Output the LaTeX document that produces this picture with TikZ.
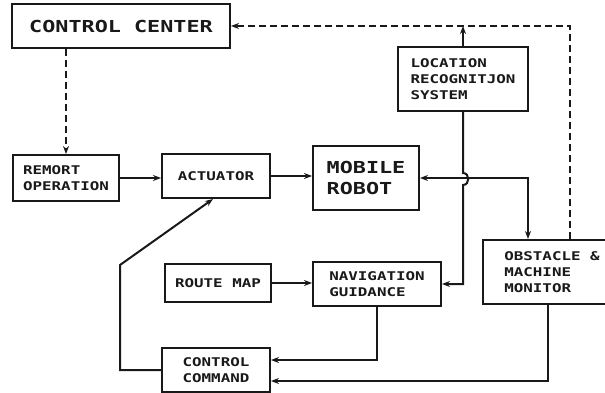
\documentclass[tikz,border=0pt]{standalone}
\usepackage{fontspec}
\usetikzlibrary{positioning,calc}
\usetikzlibrary{arrows.meta}
\newfontfamily\plotfont[FakeStretch=1.32]{DejaVu Sans Mono}
\definecolor{InkGray}{RGB}{25,25,25}
\tikzset{
  blk/.style={draw=InkGray,line width=2pt,inner sep=0pt,align=left,
    font=\plotfont\bfseries\fontsize{12}{16}\selectfont,text=InkGray},
  bigblk/.style={blk,font=\plotfont\bfseries\fontsize{16.5}{21.5}\selectfont},
  tip/.style={-{Stealth[length=8pt,width=6pt]}},
  flow/.style={draw=InkGray,line width=2pt,tip},
  dflow/.style={flow,dash pattern=on 7pt off 4pt},
}

\begin{document}
\begin{tikzpicture}[x=1pt,y=-1pt]
\clip (0,0) rectangle (605,393);
\fill[white] (0,0) rectangle (605,393);
% blocks
\node[bigblk,minimum width=218pt,minimum height=44pt] (cc) at (121,26) {CONTROL CENTER};
\node[blk,minimum width=106pt,minimum height=46pt] (remort) at (66,178) {REMORT\\OPERATION};
\node[blk,minimum width=108pt,minimum height=44pt] (actuator) at (216,176) {ACTUATOR};
\node[bigblk,minimum width=106pt,minimum height=64pt] (robot) at (366,178) {MOBILE\\ROBOT};
\node[blk,minimum width=130pt,minimum height=64pt] (locsys) at (463,79) {LOCATION\\RECOGNITJON\\SYSTEM};
\node[blk,minimum width=138pt,minimum height=64pt] (obstacle) at (552,272) {OBSTACLE \&\\MACHINE\\MONITOR};
\node[blk,minimum width=106pt,minimum height=38pt] (routemap) at (218,283) {ROUTE MAP};
\node[blk,minimum width=128pt,minimum height=44pt] (navguide) at (377,284) {NAVIGATION\\GUIDANCE};
\node[blk,minimum width=108pt,minimum height=44pt] (ccmd) at (216,370) {CONTROL\\COMMAND};
\coordinate (obsup) at ([xshift=18pt]obstacle.north);
\coordinate (obsin) at ([xshift=-24pt]obstacle.north);
\coordinate (obsout) at ([xshift=-4pt]obstacle.south);
\coordinate (bend) at (120,265);
% connectors
\draw[dflow] (remort.north |- cc.south) -- (remort.north);
\draw[dflow] (obsup) |- (cc.east);
\draw[flow] (locsys.north) -- (locsys.north |- cc.east);
\draw[flow] (remort.east) -- (actuator.west |- remort.east);
\draw[flow] (actuator.east) -- (robot.west |- actuator.east);
\draw[flow,{Stealth[length=8pt,width=6pt]}-{Stealth[length=8pt,width=6pt]}] (robot.east) -| (obsin);
\draw[flow] (locsys.south) -- ++(0,61) .. controls +(7,0) and +(7,0) .. ++(0,12) |- (navguide.east);
\draw[flow] (routemap.east) -- (navguide.west |- routemap.east);
\draw[flow] (navguide.south) |- ([yshift=10pt]ccmd.east);
\draw[flow] (obsout) |- ([yshift=-11pt]ccmd.east);
\draw[flow] (ccmd.west) -| (bend) -- ([xshift=-3pt]actuator.south);
\end{tikzpicture}
\end{document}
